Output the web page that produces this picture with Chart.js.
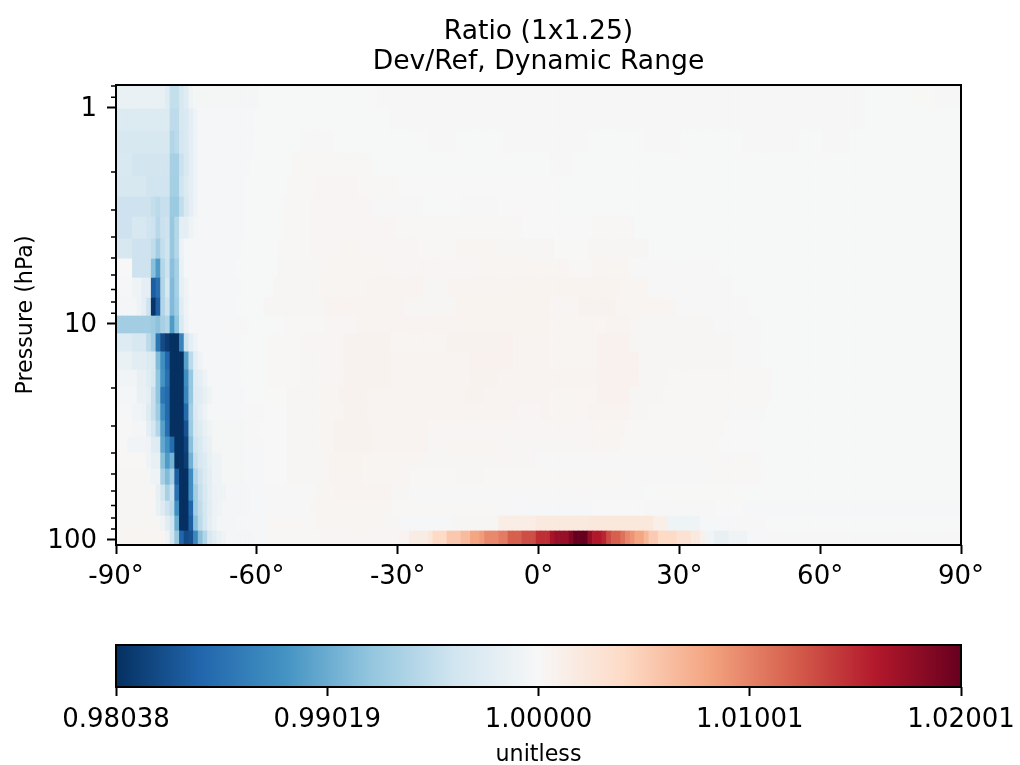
<!DOCTYPE html>
<html>
<head>
<meta charset="utf-8">
<title>Ratio (1x1.25)</title>
<script src="https://cdn.jsdelivr.net/npm/chart.js@4"></script>
<style>
  html, body { margin: 0; padding: 0; background: #fff; }
  canvas { display: block; }
</style>
</head>
<body>
<canvas id="main-chart" width="1020" height="615"></canvas>
<canvas id="colorbar-chart" width="1020" height="150"></canvas>
<script>
// Pressure edges of the rows, top to bottom (hPa)
const rowEdges = [0.79, 1.02, 1.29, 1.65, 2.09, 2.61, 3.23, 4.08, 5.05, 6.19, 7.66, 9.28, 11.2,
  13.6, 16.5, 19.8, 23.7, 28.4, 33.7, 40.0, 47.4, 56.2, 66.7, 78.3, 91.8, 107];

// One list per row: [latitude where the run starts, value]
// value = place on the colour bar, -1 is 0.98038, 0 is 1.00000, +1 is 1.02001
const row01 = [[-90,-.07],[-80,-.08],[-79,-.12],[-78,-.24],[-76,-.17],[-75,-.12],[-74,-.05],[-73,-.015],[-59,-.003],[-34,-.006],[70,-.003],[80,.003],[85,-.006]];
const row02 = [[-90,-.14],[-78,-.26],[-76,-.17],[-75,-.15],[-74,-.1],[-73,-.04],[-72,-.012],[-60,-.003],[-31,-.006],[70,-.003]];
const row03 = [[-90,-.17],[-78,-.3],[-77,-.27],[-76,-.18],[-75,-.15],[-74,-.1],[-73,-.05],[-72,-.01],[-60,-.003],[-50,.005],[-43,-.003],[-23,-.006],[-17,-.003],[-7,-.006],[11,-.003],[23,-.006],[31,-.003],[44,-.006],[56,-.003],[61,-.006],[67,-.003]];
const row04 = [[-90,-.16],[-86,-.19],[-78,-.33],[-76,-.22],[-75,-.16],[-74,-.1],[-73,-.04],[-72,-.008],[-61,-.003],[-52,.008],[-35,-.003],[3,-.006],[8,-.003]];
const row05 = [[-90,-.17],[-83,-.2],[-78,-.34],[-76,-.2],[-75,-.14],[-74,-.1],[-73,-.05],[-72,-.008],[-62,-.003],[-53,.008],[-47,.018],[-38,.008],[-29,-.002],[5,-.003]];
const row06 = [[-90,-.21],[-82,-.24],[-81,-.27],[-80,-.23],[-78,-.37],[-76,-.25],[-75,-.16],[-74,-.1],[-73,-.04],[-72,-.008],[-62,-.003],[-54,.008],[-48,.018],[-35,.006],[-24,-.004],[-16,.005],[-8,-.002],[5,-.003]];
const row07 = [[-90,-.21],[-86,-.17],[-83,-.2],[-82,-.21],[-81,-.28],[-80,-.22],[-79,-.21],[-78,-.38],[-77,-.29],[-76,-.1],[-74,-.05],[-73,-.02],[-72,-.008],[-62,-.003],[-54,.008],[-48,.018],[-30,.008],[-3,-.002],[12,.01],[21,-.003]];
const row08 = [[-90,-.17],[-86,-.21],[-82,-.25],[-81,-.35],[-80,-.24],[-79,-.2],[-78,-.38],[-77,-.29],[-76,-.06],[-75,-.012],[-63,-.003],[-55,.008],[-48,.018],[-42,.022],[-37,.018],[-25,.01],[-17,.02],[-9,.012],[4,.003],[11,.012],[24,-.003]];
const row09 = [[-90,0],[-86,-.21],[-82,-.42],[-81,-.57],[-80,-.29],[-79,-.21],[-78,-.42],[-77,-.33],[-76,-.07],[-75,-.012],[-64,-.003],[-55,.012],[-44,.022],[-31,.018],[-12,.024],[7,.01],[12,.024],[20,.004],[39,-.003]];
const row10 = [[-90,-.01],[-86,-.05],[-84,-.1],[-82,-.83],[-81,-.76],[-80,-.3],[-79,-.17],[-78,-.44],[-77,-.33],[-76,-.09],[-75,-.04],[-74,-.012],[-63,-.003],[-56,.012],[-46,.022],[-36,.026],[-24,.012],[-19,.026],[-4,.032],[18,.025],[24,.005],[42,-.003]];
const row11 = [[-90,-.02],[-85,-.06],[-84,-.1],[-83,-.21],[-82,-.98],[-81,-.83],[-80,-.3],[-79,-.21],[-78,-.44],[-77,-.35],[-76,-.12],[-75,-.04],[-74,-.012],[-64,-.003],[-58,.012],[-45,.028],[-28,.015],[-17,.032],[3,.018],[9,.034],[17,.025],[22,.02],[30,.005],[45,-.003]];
const row12 = [[-90,-.35],[-82,-.37],[-81,-.41],[-80,-.33],[-79,-.3],[-78,-.57],[-77,-.4],[-76,-.15],[-75,-.06],[-74,-.012],[-66,-.006],[-61,-.003],[-54,.008],[-45,.018],[-38,.028],[-15,.032],[3,.025],[11,.02],[15,.03],[20,.012],[38,.004],[48,-.003]];
const row13 = [[-90,-.13],[-86,-.17],[-83,-.27],[-82,-.35],[-81,-.73],[-80,-.9],[-79,-.96],[-78,-1],[-76,-.67],[-75,-.2],[-74,-.1],[-73,-.05],[-72,-.01],[-63,-.003],[-57,.008],[-50,.018],[-41,.034],[-31,.025],[-19,.035],[-8,.04],[-5,.028],[3,.025],[13,.04],[20,.015],[26,.012],[42,.005],[48,-.003]];
const row14 = [[-90,-.07],[-86,-.11],[-83,-.14],[-82,-.16],[-81,-.44],[-80,-.62],[-79,-.79],[-78,-1],[-75,-.55],[-74,-.27],[-73,-.1],[-72,-.05],[-71,-.012],[-63,-.003],[-57,.008],[-50,.015],[-46,.018],[-41,.034],[-31,.026],[-14,.04],[-5,.028],[3,.025],[13,.04],[22,.015],[27,.012],[42,.005],[48,-.003]];
const row15 = [[-90,-.03],[-85,-.08],[-83,-.12],[-82,-.17],[-81,-.4],[-80,-.6],[-79,-.75],[-78,-1],[-75,-.63],[-74,-.38],[-73,-.12],[-72,-.1],[-71,-.06],[-70,-.014],[-63,-.004],[-57,.008],[-50,.015],[-46,.018],[-41,.034],[-31,.026],[-14,.035],[-8,.03],[13,.04],[22,.015],[28,.008],[50,-.003]];
const row16 = [[-90,-.02],[-85,-.07],[-83,-.1],[-82,-.23],[-81,-.4],[-80,-.73],[-79,-.78],[-78,-1],[-75,-.66],[-74,-.38],[-73,-.13],[-72,-.12],[-71,-.08],[-70,-.05],[-69,-.014],[-62,-.004],[-58,.003],[-53,.012],[-46,.02],[-42,.035],[-36,.026],[-15,.038],[-11,.028],[3,.022],[11,.025],[13,.04],[20,.015],[27,.008],[50,-.003]];
const row17 = [[-90,-.01],[-86,-.03],[-84,-.06],[-83,-.13],[-82,-.23],[-81,-.36],[-80,-.63],[-79,-.78],[-78,-1],[-75,-.78],[-74,-.35],[-73,-.15],[-72,-.1],[-71,-.06],[-70,-.014],[-62,-.006],[-58,.002],[-53,.012],[-46,.022],[-41,.038],[-36,.028],[-4,.018],[1,.028],[3,.02],[11,.03],[20,.012],[24,.01],[41,.004],[49,-.003]];
const row18 = [[-90,.005],[-86,-.02],[-83,-.1],[-82,-.18],[-81,-.3],[-80,-.55],[-79,-.76],[-78,-1],[-75,-.87],[-74,-.37],[-73,-.17],[-72,-.13],[-71,-.08],[-70,-.05],[-69,-.015],[-62,-.006],[-59,-.002],[-53,.012],[-46,.022],[-43,.035],[-35,.028],[-23,.018],[11,.025],[19,.008],[40,.002],[48,-.003]];
const row19 = [[-90,.005],[-87,-.03],[-83,-.04],[-82,-.12],[-81,-.13],[-80,-.52],[-79,-.62],[-78,-.77],[-77,-1],[-75,-.93],[-74,-.42],[-73,-.2],[-72,-.16],[-71,-.1],[-70,-.07],[-69,-.015],[-62,-.006],[-58,-.002],[-53,.012],[-46,.022],[-43,.035],[-35,.026],[-23,.012],[-19,.02],[-7,.015],[11,.022],[18,.007],[39,.002],[48,-.003]];
const row20 = [[-90,.01],[-83,-.05],[-82,-.08],[-80,-.42],[-79,-.57],[-78,-.47],[-77,-1],[-75,-.95],[-74,-.48],[-73,-.23],[-72,-.17],[-71,-.13],[-70,-.08],[-69,-.05],[-68,-.04],[-67,-.015],[-62,-.008],[-58,-.002],[-53,.012],[-44,.032],[-37,.024],[-24,.012],[0,.006],[20,.005],[37,.007],[48,-.003]];
const row21 = [[-90,.015],[-83,-.02],[-82,-.05],[-80,-.33],[-79,-.44],[-78,-.33],[-77,-.83],[-76,-1],[-74,-.63],[-73,-.3],[-72,-.21],[-71,-.14],[-70,-.1],[-69,-.05],[-68,-.04],[-67,-.015],[-62,-.008],[-58,-.002],[-53,.012],[-44,.03],[-37,.022],[-27,.01],[-17,.012],[-11,.008],[11,.01],[20,.004],[37,.007],[48,-.003]];
const row22 = [[-90,.015],[-81,-.08],[-80,-.19],[-79,-.33],[-78,-.23],[-77,-.75],[-76,-1],[-74,-.63],[-73,-.35],[-72,-.23],[-71,-.16],[-70,-.1],[-69,-.06],[-68,-.05],[-66,-.018],[-61,-.01],[-57,.004],[-47,.02],[-43,.03],[-31,.015],[-27,.004],[11,.006],[23,-.003],[26,.003],[45,-.003]];
const row23 = [[-90,.015],[-81,-.07],[-80,-.13],[-79,-.21],[-78,-.27],[-77,-.62],[-76,-1],[-74,-.8],[-73,-.35],[-72,-.25],[-71,-.18],[-70,-.11],[-69,-.06],[-68,-.05],[-67,-.018],[-61,-.008],[-57,.005],[-48,.02],[-43,.025],[-31,.008],[-8,-.006],[-4,-.01],[12,.002],[23,-.006],[38,.002],[44,-.008]];
const row24 = [[-90,.015],[-80,-.05],[-79,-.11],[-78,-.2],[-77,-.5],[-76,-1],[-74,-.83],[-73,-.42],[-72,-.27],[-71,-.18],[-70,-.1],[-69,-.06],[-68,-.018],[-64,-.01],[-57,.008],[-47,.02],[-32,.012],[-29,-.01],[-18,.015],[-8,.07],[0,.1],[11,.11],[25,.06],[28,-.05],[35,-.01],[42,.004],[49,-.003]];
const row25 = [[-90,.02],[-79,-.04],[-78,-.19],[-77,-.38],[-76,-.8],[-75,-.9],[-74,-.88],[-73,-.65],[-72,-.42],[-71,-.3],[-70,-.17],[-69,-.11],[-68,-.07],[-67,-.04],[-66,-.02],[-60,-.008],[-57,.008],[-46,.018],[-32,.02],[-29,.03],[-27,.08],[-23,.12],[-22,.2],[-19,.27],[-16,.32],[-14,.4],[-12,.43],[-11,.48],[-8,.52],[-6,.6],[-3,.65],[0,.74],[3,.83],[4,.87],[7,.93],[8,1],[11,.88],[12,.8],[14,.76],[15,.66],[16,.6],[18,.55],[19,.49],[20,.45],[21,.4],[23,.33],[24,.26],[26,.2],[30,.15],[33,.1],[35,.05],[36,-.03],[38,-.08],[41,-.04],[45,-.012],[49,-.006]];
const allRows = [row01, row02, row03, row04, row05, row06, row07, row08, row09, row10, row11, row12, row13,
  row14, row15, row16, row17, row18, row19, row20, row21, row22, row23, row24, row25];

// Tick values and labels
const latTicks = [-90, -60, -30, 0, 30, 60, 90];
const pressureTicks = [1, 10, 100];
const pressureMinorTicks = [0.8, 0.9, 2, 3, 4, 5, 6, 7, 8, 9, 20, 30, 40, 50, 60, 70, 80, 90];
const barTicks = [-1, -0.5, 0, 0.5, 1];
const barTickLabels = ['0.98038', '0.99019', '1.00000', '1.01001', '1.02001'];

// RdBu_r
const rdbuStops = ['#053061', '#2166ac', '#4393c3', '#92c5de', '#d1e5f0', '#f7f7f7',
  '#fddbc7', '#f4a582', '#d6604d', '#b2182b', '#67001f'];

const FONT = '"DejaVu Sans", sans-serif';
Chart.defaults.font.family = FONT;
Chart.defaults.color = '#000';
Chart.defaults.animation = false;

function hexToRgb(hex) {
  return [1, 3, 5].map(i => parseInt(hex.slice(i, i + 2), 16));
}

function colourAt(value) {
  const t = Math.min(Math.max((value + 1) * 5, 0), 10);
  const i = Math.min(Math.floor(t), 9);
  const a = hexToRgb(rdbuStops[i]);
  const b = hexToRgb(rdbuStops[i + 1]);
  const c = a.map((v, k) => Math.round(v + (b[k] - v) * (t - i)));
  return `rgb(${c[0]},${c[1]},${c[2]})`;
}

// Runs to one cell per latitude
const cells = [];
const cellColours = [];
allRows.forEach((runs, r) => {
  runs.forEach((run, k) => {
    const end = k + 1 < runs.length ? runs[k + 1][0] : 91;
    for (let lat = run[0]; lat < end; lat++) {
      cells.push({ x: lat, y: [rowEdges[r], rowEdges[r + 1]] });
      cellColours.push(colourAt(run[1]));
    }
  });
});

// Frame and the short log ticks
const framePlugin = {
  id: 'frame',
  afterDraw(chart) {
    const { ctx, chartArea: a, scales } = chart;
    ctx.save();
    ctx.strokeStyle = '#000';
    if (scales.y.type === 'logarithmic') {
      ctx.lineWidth = 1.5;
      ctx.beginPath();
      pressureMinorTicks.forEach(p => {
        const y = scales.y.getPixelForValue(p);
        ctx.moveTo(a.left - 5, y);
        ctx.lineTo(a.left, y);
      });
      ctx.stroke();
    }
    ctx.lineWidth = 2;
    ctx.strokeRect(a.left, a.top, a.right - a.left, a.bottom - a.top);
    ctx.restore();
  }
};

new Chart(document.getElementById('main-chart'), {
  type: 'bar',
  data: {
    datasets: [{
      label: 'Ratio',
      data: cells,
      backgroundColor: cellColours,
      borderWidth: 0,
      barPercentage: 1,
      categoryPercentage: 1,
    }]
  },
  options: {
    responsive: false,
    layout: { padding: { left: 0, right: 59, top: 0, bottom: 0 } },
    plugins: {
      legend: { display: false },
      tooltip: { enabled: false },
      title: {
        display: true,
        fullSize: false,
        text: ['Ratio (1x1.25)', 'Dev/Ref, Dynamic Range'],
        color: '#000',
        font: { size: 26.6, weight: 'normal', lineHeight: 1.128 },
        padding: { top: 17, bottom: 8 },
      }
    },
    scales: {
      x: {
        type: 'linear',
        offset: false,
        min: -90,
        max: 90,
        afterBuildTicks: s => { s.ticks = latTicks.map(value => ({ value })); },
        afterFit: s => { s.height = 70; },
        border: { display: false },
        grid: { offset: false, drawOnChartArea: false, tickLength: 9, tickWidth: 2, tickColor: '#000' },
        ticks: { font: { size: 26 }, padding: 8, maxRotation: 0, autoSkip: false, callback: v => v + '°' },
      },
      y: {
        type: 'logarithmic',
        reverse: true,
        min: 0.7907,
        max: 106.6,
        afterBuildTicks: s => { s.ticks = pressureTicks.map(value => ({ value })); },
        afterFit: s => { s.width = 116; },
        border: { display: false },
        grid: { drawOnChartArea: false, tickLength: 9, tickWidth: 2, tickColor: '#000' },
        ticks: { font: { size: 26 }, padding: 10, labelOffset: 2, autoSkip: false, callback: v => String(v) },
        title: { display: true, text: 'Pressure (hPa)', font: { size: 22.2 }, padding: { top: 13, bottom: 0 } },
      }
    }
  },
  plugins: [framePlugin]
});

new Chart(document.getElementById('colorbar-chart'), {
  type: 'bar',
  data: {
    labels: ['unitless'],
    datasets: [{
      data: [[-1, 1]],
      borderWidth: 0,
      barPercentage: 1,
      categoryPercentage: 1,
      backgroundColor: c => {
        const area = c.chart.chartArea;
        if (!area) return '#f7f7f7';
        const g = c.chart.ctx.createLinearGradient(area.left, 0, area.right, 0);
        rdbuStops.forEach((col, i) => g.addColorStop(i / (rdbuStops.length - 1), col));
        return g;
      },
    }]
  },
  options: {
    indexAxis: 'y',
    responsive: false,
    layout: { padding: { left: 116, right: 59, top: 30, bottom: 0 } },
    plugins: { legend: { display: false }, tooltip: { enabled: false } },
    scales: {
      y: { display: false },
      x: {
        type: 'linear',
        min: -1,
        max: 1,
        afterBuildTicks: s => { s.ticks = barTicks.map(value => ({ value })); },
        afterFit: s => { s.height = 78; s.paddingLeft = 0; s.paddingRight = 0; },
        border: { display: false },
        grid: { drawOnChartArea: false, tickLength: 9, tickWidth: 2, tickColor: '#000' },
        ticks: {
          font: { size: 26 }, padding: 9, maxRotation: 0, autoSkip: false,
          callback: (v, i) => barTickLabels[i],
        },
        title: { display: true, text: 'unitless', font: { size: 22.2, lineHeight: 1 }, padding: { top: 2, bottom: -1 } },
      }
    }
  },
  plugins: [framePlugin]
});
</script>
</body>
</html>
